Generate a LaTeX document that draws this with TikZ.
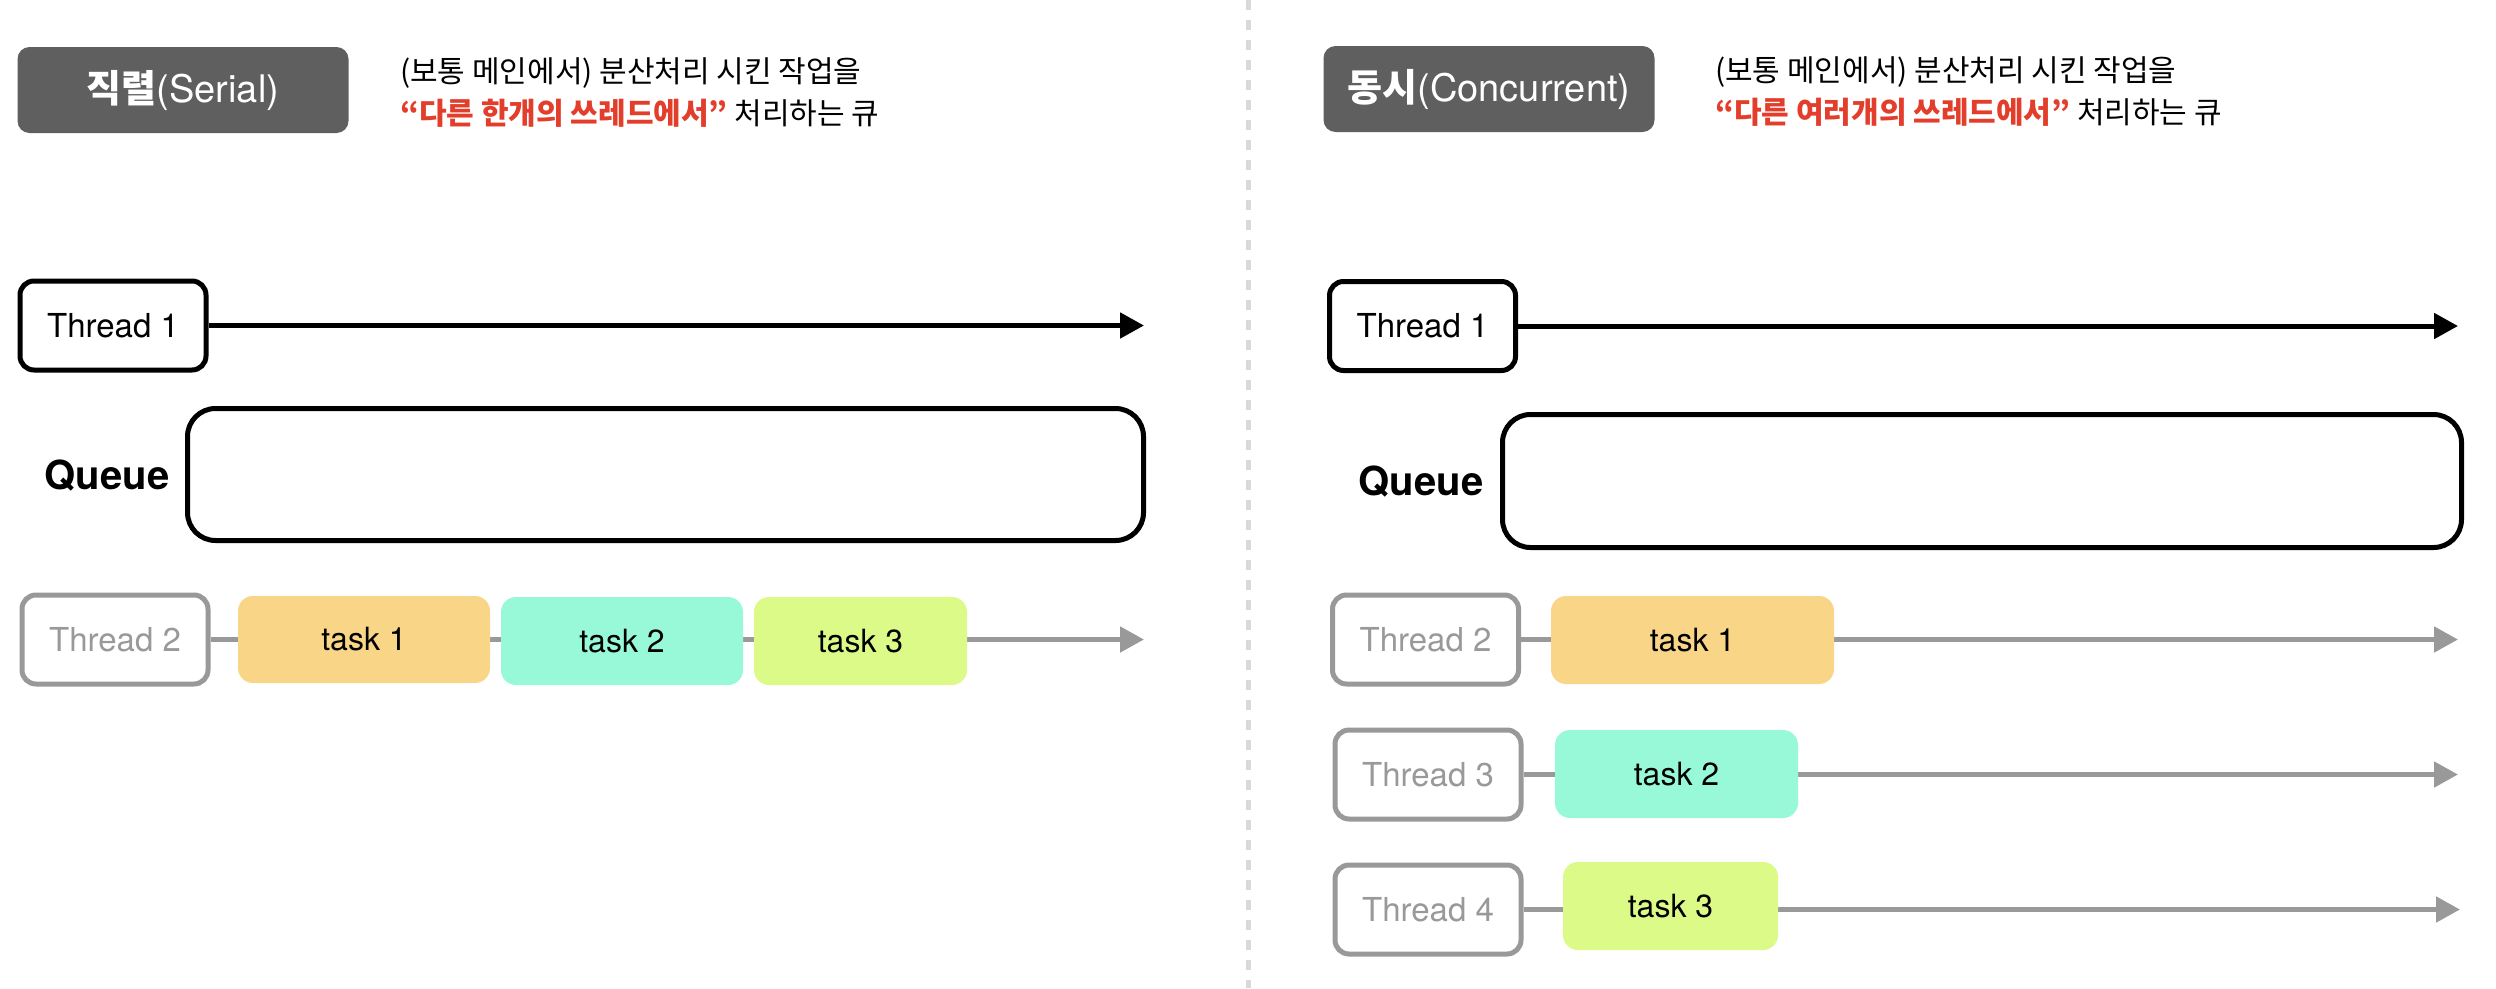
\documentclass[tikz,border=0pt]{standalone}
\usepackage{fontspec}
\setmainfont{TeX Gyre Heros}
\newfontfamily\kr{Noto Sans CJK KR}
\usetikzlibrary{arrows.meta}
\definecolor{titlegray}{RGB}{95,95,95}
\definecolor{emred}{RGB}{226,62,43}
\definecolor{thgray}{RGB}{153,153,153}
\definecolor{divgray}{RGB}{217,217,217}
\definecolor{taskA}{RGB}{248,213,135}
\definecolor{taskB}{RGB}{152,249,216}
\definecolor{taskC}{RGB}{220,250,136}
\tikzset{
  titlebox/.style={fill=titlegray, rounded corners=12pt, inner sep=0pt, text=white,
    minimum width=331pt, minimum height=86pt, font=\fontsize{38}{42}\selectfont},
  desc/.style={anchor=base west, inner sep=0pt, font=\kr\fontsize{30}{34}\selectfont},
  thbox/.style={draw=black, line width=5pt, rounded corners=14pt, fill=white, inner sep=0pt,
    minimum width=186pt, minimum height=89pt, font=\fontsize{33}{36}\selectfont},
  thgbox/.style={thbox, draw=thgray, text=thgray},
  queuebox/.style={draw=black, line width=5pt, rounded corners=28pt, inner sep=0pt},
  queuelabel/.style={font=\bfseries\fontsize{40}{44}\selectfont, inner sep=0pt},
  taskbox/.style={rounded corners=15pt, inner sep=0pt, font=\fontsize{32}{36}\selectfont},
  mainline/.style={line width=5pt, -{Triangle[length=24pt,width=25pt]}},
  grayline/.style={draw=thgray, line width=5pt, -{Triangle[length=24pt,width=25pt]}},
  divider/.style={draw=divgray, line width=5pt, dash pattern=on 10pt off 10pt},
}
\begin{document}
\begin{tikzpicture}[x=1pt,y=-1pt]
\useasboundingbox (0,0) rectangle (2496,988);

% divider
\coordinate (dtop) at (1248,0);
\coordinate (dbot) at (1248,988);
\draw[divider] (dtop) -- (dbot);

% ===== left: serial =====
\node[titlebox] (sertitle) at (183,90) {{\kr\bfseries 직렬}(Serial)};
\node[desc] (serd1) at (400,82) {(보통 메인에서) 분산처리 시킨 작업을};
\node[desc] (serd2) at (400,124) {{\bfseries\color{emred}“다른 한개의 쓰레드에서”} 처리하는 큐};

\node[thbox] (sth1) at (113,325.5) {Thread 1};
\coordinate (sth1end) at (1144,325.5);
\draw[mainline] (sth1) -- (sth1end);

\node[queuebox, minimum width=956pt, minimum height=132pt] (sq) at (665.5,474.5) {};
\node[queuelabel] (sql) at (107,476) {Queue};

\node[thgbox] (sth2) at (115,639.5) {Thread 2};
\coordinate (sth2end) at (1144,639.5);
\draw[grayline] (sth2) -- (sth2end);
\node[taskbox, fill=taskA, minimum width=252pt, minimum height=87pt] (st1) at (364,639.5) {task 1};
\node[taskbox, fill=taskB, minimum width=242pt, minimum height=88pt] (st2) at (622,641) {task 2};
\node[taskbox, fill=taskC, minimum width=213pt, minimum height=88pt] (st3) at (860.5,641) {task 3};

% ===== right: concurrent =====
\node[titlebox] (contitle) at (1489,89) {{\kr\bfseries 동시}(Concurrent)};
\node[desc] (cond1) at (1715,81) {(보통 메인에서) 분산처리 시킨 작업을};
\node[desc] (cond2) at (1715,123) {{\bfseries\color{emred}“다른 여러개의 쓰레드에서”} 처리하는 큐};

\node[thbox] (cth1) at (1422.5,326) {Thread 1};
\coordinate (cth1end) at (2458,326);
\draw[mainline] (cth1) -- (cth1end);

\node[queuebox, minimum width=959pt, minimum height=133pt] (cq) at (1982,481) {};
\node[queuelabel] (cql) at (1421,482) {Queue};

\node[thgbox] (cth2) at (1425.5,639.5) {Thread 2};
\coordinate (cth2end) at (2458,639.5);
\draw[grayline] (cth2) -- (cth2end);
\node[taskbox, fill=taskA, minimum width=283pt, minimum height=88pt] (ct1) at (1692.5,640) {task 1};

\node[thgbox] (cth3) at (1428,774.5) {Thread 3};
\coordinate (cth3end) at (2458,774.5);
\draw[grayline] (cth3) -- (cth3end);
\node[taskbox, fill=taskB, minimum width=243pt, minimum height=88pt] (ct2) at (1676.5,774) {task 2};

\node[thgbox] (cth4) at (1428,909.5) {Thread 4};
\coordinate (cth4end) at (2460,909.5);
\draw[grayline] (cth4) -- (cth4end);
\node[taskbox, fill=taskC, minimum width=215pt, minimum height=88pt] (ct3) at (1670.5,906) {task 3};
\end{tikzpicture}
\end{document}
